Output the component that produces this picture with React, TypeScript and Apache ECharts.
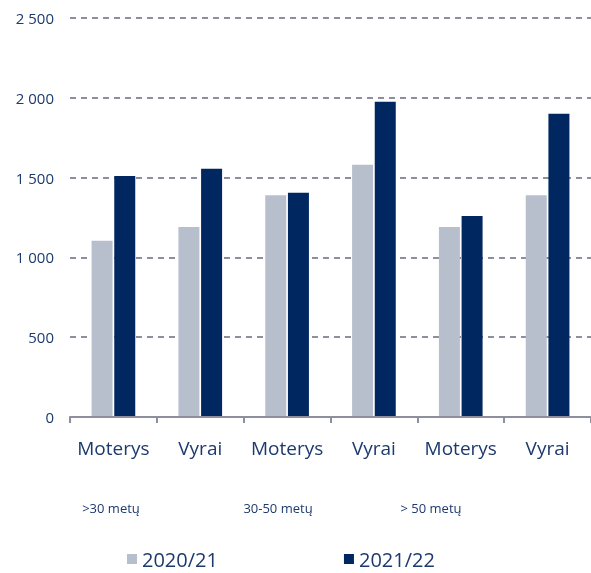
import React, { useEffect, useRef } from "react";
import * as echarts from "echarts";

const categories = ["Moterys", "Vyrai", "Moterys", "Vyrai", "Moterys", "Vyrai"];
const groupLabels = [">30 metų", "30-50 metų", "> 50 metų"];
const seriesNames = ["2020/21", "2021/22"];
const values2020 = [1105, 1190, 1390, 1580, 1190, 1390];
const values2021 = [1510, 1555, 1405, 1975, 1260, 1900];
const yTicks = [0, 500, 1000, 1500, 2000, 2500];

const TEXT = "#1c3a6e";
const GRAY = "#b8bfcc";
const NAVY = "#002760";
const GRID = "#8e8f9c";

function fmt(v: number): string {
  if (v >= 1000) {
    return `${Math.floor(v / 1000)} ${String(v % 1000).padStart(3, "0")}`;
  }
  return String(v);
}

export default function App() {
  const ref = useRef<HTMLDivElement>(null);
  useEffect(() => {
    if (!ref.current) return;
    const chart = echarts.init(ref.current, undefined, { renderer: "svg" });
    const font = "'Open Sans', 'Noto Sans', sans-serif";
    const groupX = [111, 278, 431];
    chart.setOption({
      animation: false,
      textStyle: { fontFamily: font },
      grid: { left: 70, right: -1, top: 18, bottom: 156, containLabel: false },
      legend: {
        data: seriesNames,
        left: 127,
        top: 548,
        padding: 0,
        itemWidth: 10,
        itemHeight: 10,
        itemGap: 126,
        icon: "rect",
        textStyle: { fontSize: 20, lineHeight: 22, color: TEXT, fontFamily: font },
      },
      xAxis: {
        type: "category",
        data: categories,
        axisLine: { lineStyle: { color: GRID, width: 2 } },
        axisTick: { show: true, length: 6, lineStyle: { color: GRID, width: 2 } },
        axisLabel: { color: TEXT, fontSize: 19, margin: 21, fontFamily: font, interval: 0 },
        z: 5,
      },
      yAxis: {
        type: "value",
        min: yTicks[0],
        max: yTicks[yTicks.length - 1],
        interval: 500,
        axisLine: { show: false },
        axisTick: { show: false },
        axisLabel: {
          color: TEXT,
          fontSize: 15,
          margin: 16,
          fontFamily: font,
          formatter: (v: number) => fmt(v),
        },
        splitLine: {
          show: true,
          lineStyle: { color: GRID, width: 2, type: [6, 5] },
        },
      },
      series: [
        {
          name: seriesNames[0],
          type: "bar",
          data: values2020,
          barWidth: 21,
          barGap: "8%",
          itemStyle: { color: GRAY },
        },
        {
          name: seriesNames[1],
          type: "bar",
          data: values2021,
          barWidth: 21,
          barGap: "8%",
          itemStyle: { color: NAVY },
        },
      ],
      graphic: groupLabels.map((t, i) => ({
        type: "text",
        x: groupX[i],
        y: 508,
        style: {
          text: t,
          fill: TEXT,
          font: `13px ${font}`,
          align: "center",
          verticalAlign: "middle",
        },
      })),
    });
    return () => chart.dispose();
  }, []);
  return (
    <div
      ref={ref}
      style={{ position: "fixed", left: 0, top: 0, width: 591, height: 573 }}
    />
  );
}
